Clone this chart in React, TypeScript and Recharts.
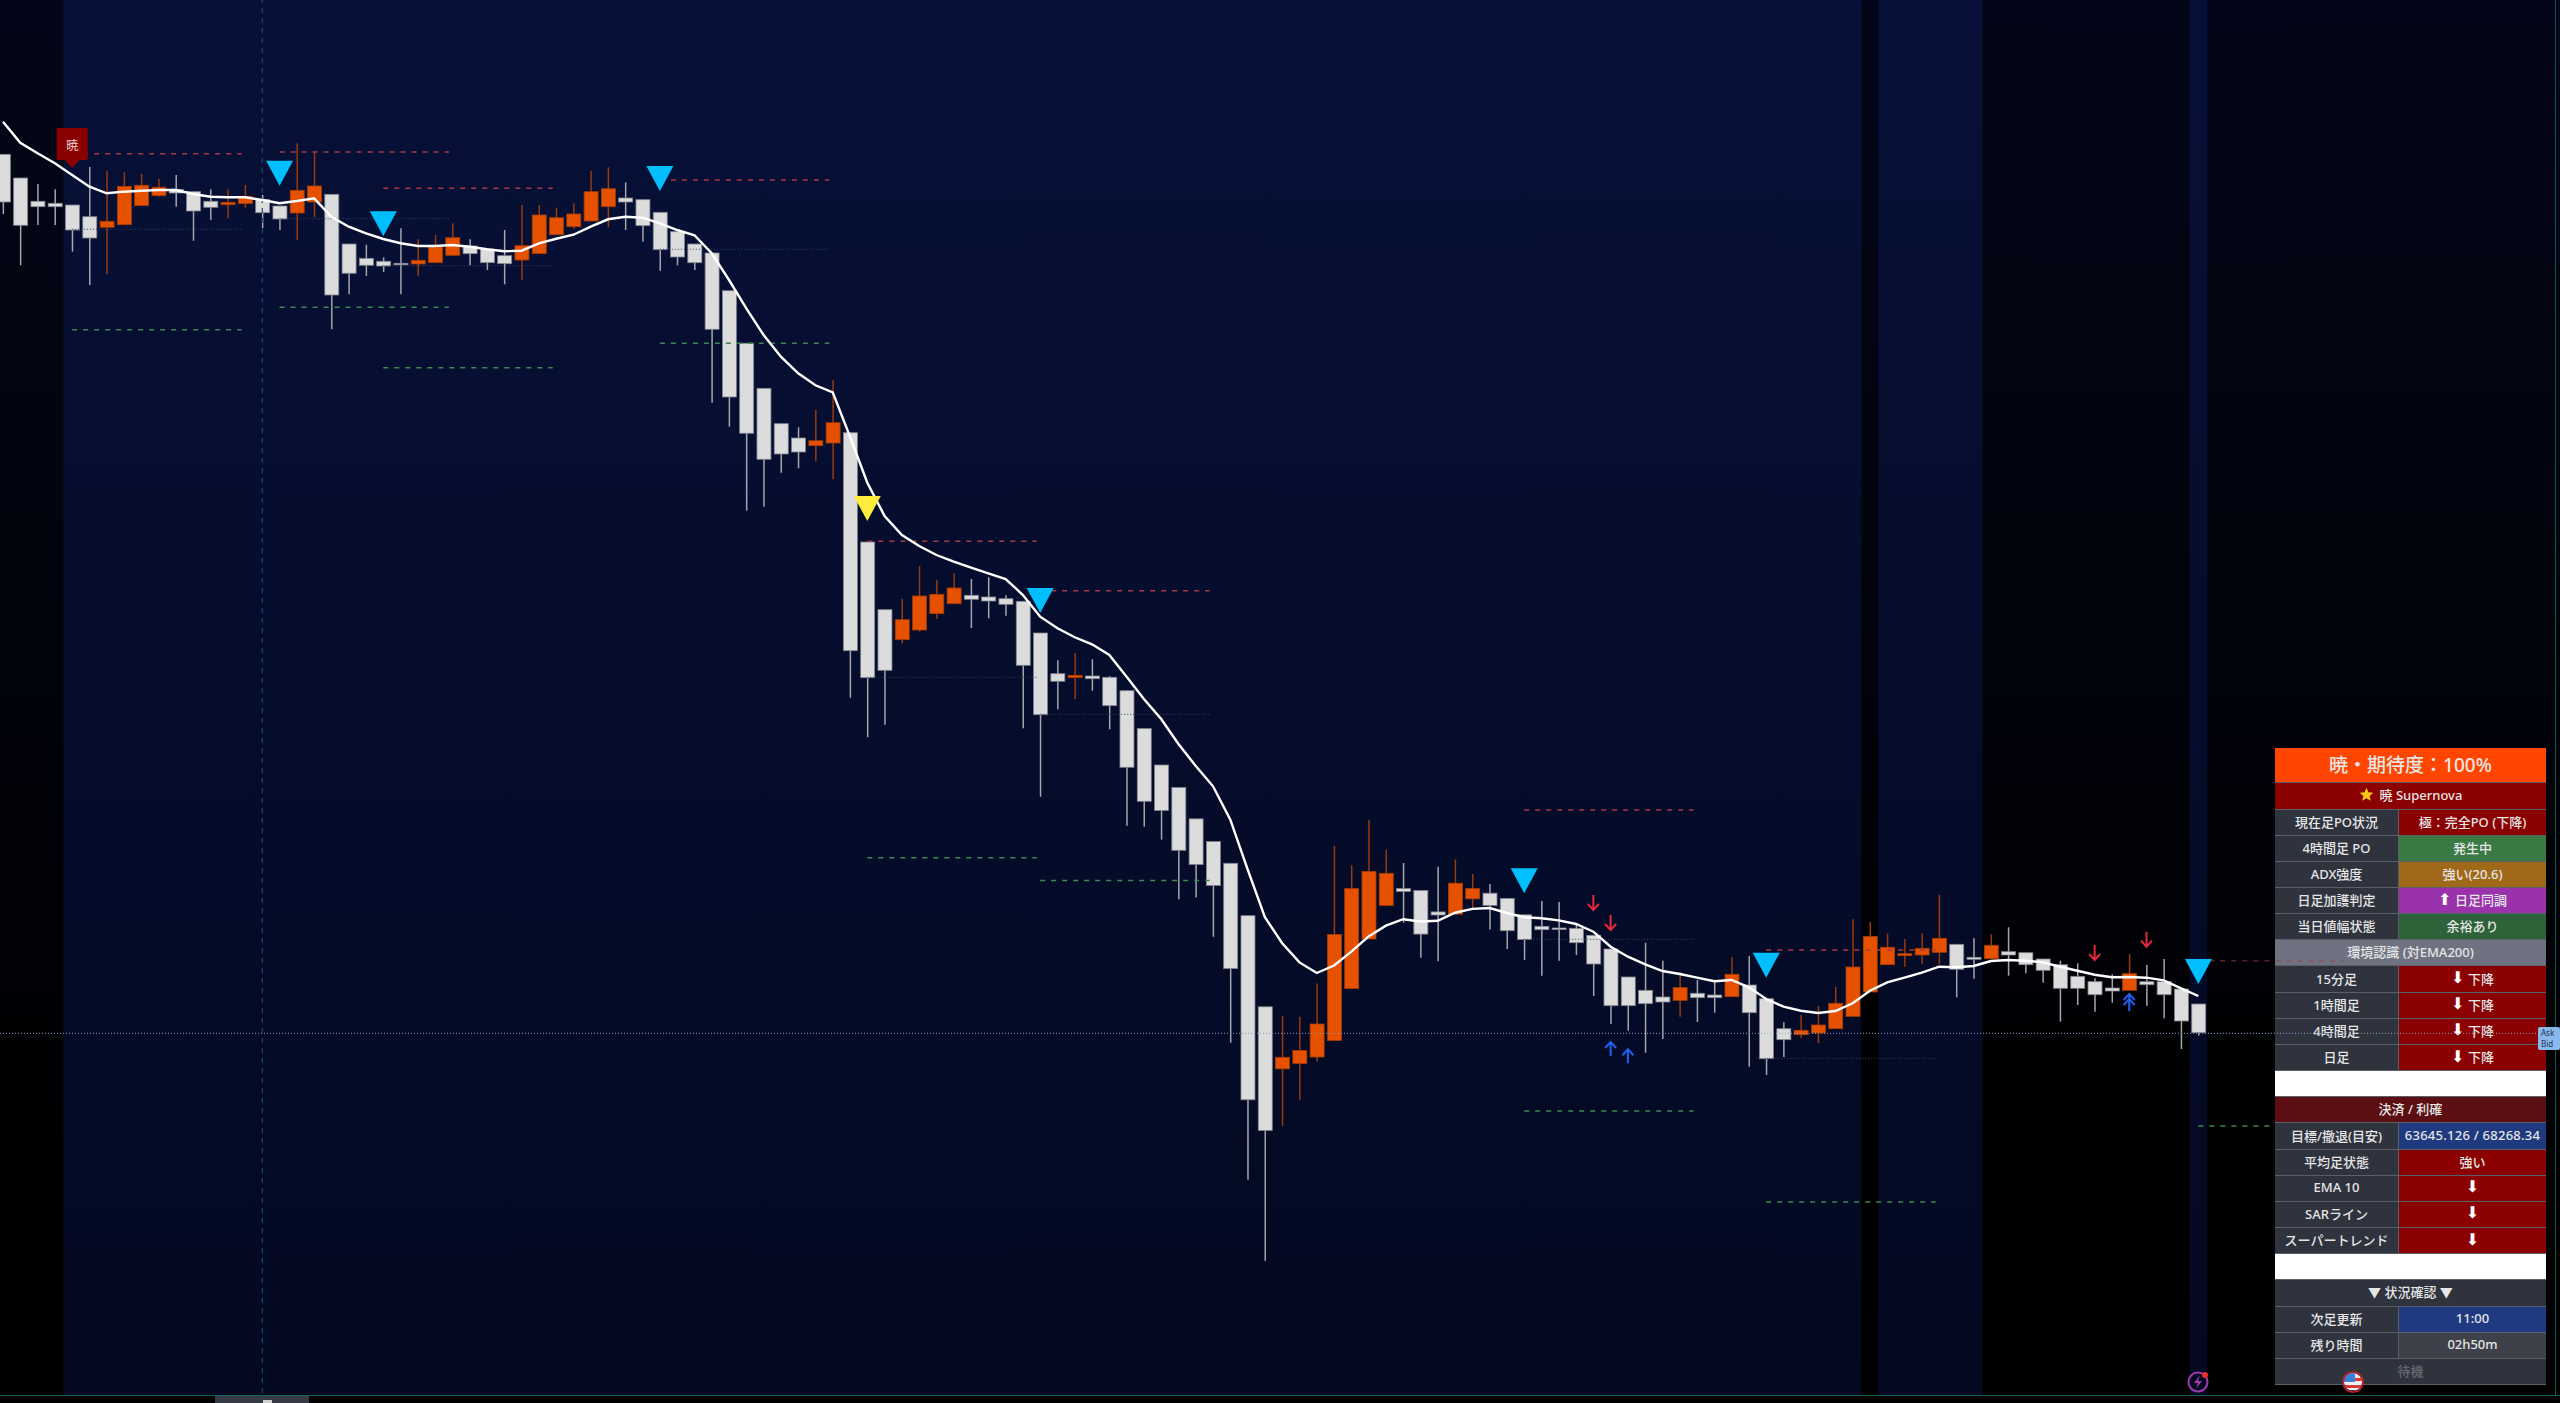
import { Bar, ComposedChart, Line, ReferenceArea, ReferenceLine, Scatter, XAxis, YAxis } from "recharts";

// candles, oldest first
const opens = [
  88142, 87550, 86968, 86918, 86875, 86582, 86318, 86382, 86858, 87108, 87268, 87208, 86968, 86882, 86908, 87008,
  86850, 86675, 86950, 87142, 85900, 85542, 85468, 85418, 85400, 85432, 85618, 85850, 85768, 85608, 85500, 85658,
  86132, 86332, 86475, 86832, 87050, 87008, 86692, 86208, 85900, 85675, 84732, 83418, 82292, 81408, 81050, 80858,
  80925, 81182, 78450, 76758, 76008, 76250, 76658, 76908, 77118, 77075, 77032, 76968, 76175, 75158, 75058, 75100,
  75068, 74732, 73785, 72875, 72312, 71528, 70962, 70418, 69108, 66830, 65280, 65412, 65575, 65988, 67288, 68525,
  69365, 69785, 69738, 69202, 69145, 69528, 69670, 69540, 69130, 68842, 68800, 68792, 68618, 68275, 67575, 67242,
  67075, 66992, 67168, 67125, 67082, 67375, 67032, 66282, 66132, 66175, 66282, 66592, 67200, 67882, 68108, 68125,
  68192, 68392, 68068, 68032, 68208, 68182, 68025, 67882, 67592, 67458, 67300, 67242, 67458, 67458, 67275, 66900,
];
const highs = [
  88150, 87550, 87400, 87268, 86875, 87825, 87732, 87692, 87650, 87525, 87625, 87208, 87268, 87268, 87375, 87125,
  86850, 88418, 88225, 87142, 85900, 85882, 85568, 86292, 86018, 86125, 86418, 86018, 85768, 86250, 86875, 86875,
  86808, 86918, 87732, 87818, 87442, 87008, 86692, 86208, 85900, 85675, 84732, 83418, 82292, 81408, 81318, 81750,
  82500, 81182, 78450, 76758, 77032, 77850, 77500, 77668, 77525, 77568, 77118, 76968, 76175, 75492, 75675, 75518,
  75100, 74732, 73785, 72875, 72312, 71528, 70962, 70418, 69108, 66830, 66600, 66580, 67412, 70850, 70370, 71500,
  70762, 70425, 69738, 70330, 70512, 70150, 69900, 69540, 69130, 69475, 69450, 68875, 68618, 68275, 67575, 68432,
  67982, 67708, 67500, 67458, 68075, 68100, 67032, 66442, 66625, 66850, 67332, 69018, 68950, 68658, 68525, 68668,
  69632, 68392, 68542, 68642, 68818, 68182, 68025, 67982, 67918, 67542, 67642, 68150, 67875, 68025, 67275, 66900,
];
const lows = [
  86650, 85368, 86375, 86375, 85708, 84875, 85150, 86382, 86858, 87082, 86832, 85982, 86500, 86542, 86808, 86292,
  86250, 86000, 86568, 83768, 84642, 85100, 85200, 84642, 85108, 85432, 85618, 85368, 85250, 84892, 85008, 85658,
  86132, 86275, 86475, 86318, 86250, 85958, 85232, 85368, 85250, 81932, 81332, 79232, 79332, 80182, 80292, 80475,
  80018, 74558, 73568, 73882, 75918, 76208, 76525, 76908, 76300, 76542, 76608, 73792, 72082, 74268, 74518, 74732,
  73768, 71355, 71335, 71010, 69518, 69565, 68580, 65930, 62505, 60478, 63855, 64505, 65460, 65988, 67288, 68525,
  69365, 68935, 68055, 67968, 69145, 69278, 68762, 68275, 68000, 67608, 67982, 68125, 67100, 66400, 66232, 65682,
  66025, 66582, 66450, 66682, 67082, 65332, 65125, 65575, 66050, 65918, 66282, 66592, 67200, 67882, 67832, 67900,
  67900, 67068, 67532, 68032, 67608, 67668, 67432, 66458, 66875, 66708, 66932, 67242, 66858, 66542, 65775, 66108,
];
const closes = [
  86950, 86368, 86832, 86832, 86250, 86050, 86468, 87342, 87368, 87318, 87175, 86725, 86818, 86942, 87092, 86682,
  86525, 87242, 87350, 84625, 85168, 85368, 85350, 85382, 85492, 85825, 86058, 85658, 85432, 85408, 85858, 86625,
  86558, 86650, 87208, 87282, 86950, 86358, 85758, 85575, 85432, 83768, 82075, 81168, 80518, 80650, 80700, 80982,
  81432, 75732, 75058, 75242, 76508, 77100, 77142, 77300, 77018, 76975, 76892, 75368, 74132, 74968, 75118, 75032,
  74358, 72818, 71968, 71738, 70742, 70388, 69862, 67785, 64505, 63740, 65568, 65738, 66400, 68638, 69785, 70215,
  70168, 69710, 68648, 69125, 69920, 69785, 69365, 68732, 68510, 68758, 68782, 68432, 67900, 66858, 66858, 66908,
  66950, 67308, 67058, 67058, 67642, 66682, 65532, 66008, 66242, 66375, 66918, 67825, 68592, 68318, 68158, 68292,
  68542, 67768, 68018, 68368, 68125, 67882, 67742, 67292, 67292, 67132, 67225, 67658, 67382, 67132, 66475, 66182,
];
const ema = [
  88958, 88432, 88168, 87918, 87625, 87332, 87168, 87208, 87232, 87250, 87250, 87150, 87082, 87068, 87068, 87000,
  86918, 86975, 87042, 86582, 86332, 86168, 86025, 85918, 85850, 85850, 85875, 85832, 85768, 85718, 85732, 85918,
  86032, 86132, 86332, 86518, 86582, 86558, 86418, 86250, 86118, 85668, 85000, 84292, 83625, 83082, 82668, 82368,
  82192, 81082, 79932, 79100, 78625, 78350, 78125, 77958, 77808, 77668, 77525, 77125, 76582, 76292, 76068, 75892,
  75625, 75082, 74525, 74025, 73400, 72850, 72342, 71508, 70265, 69068, 68418, 67940, 67675, 67862, 68208, 68590,
  68858, 69020, 68962, 68982, 69182, 69278, 69300, 69175, 69068, 69042, 68992, 68900, 68708, 68332, 68082, 67892,
  67725, 67650, 67558, 67468, 67500, 67318, 67025, 66832, 66732, 66675, 66725, 66918, 67232, 67442, 67558, 67682,
  67832, 67818, 67850, 67975, 68000, 67982, 67942, 67832, 67732, 67632, 67568, 67575, 67558, 67492, 67292, 67100,
];

// levels drawn from each signal bar
const signalBars = [4, 16, 22, 38, 50, 60, 88, 102, 127];
const stopLevels = [88158, 88200, 87292, 87500, 78468, 77232, 71750, 68250, 67982];
const midLevels = [86268, 86532, 85358, 85768, 75068, 74142, 68518, 65542, 66169];
const targetLevels = [83758, 84318, 82808, 83418, 70558, 69988, 64225, 61950, 63850];
const stopLength = [9.8, 9.8, 9.8, 9.8, 9.8, 9.8, 9.8, 9.8, 8.4];
const targetLength = [9.8, 9.8, 9.8, 9.8, 9.8, 9.8, 9.8, 9.8, 4.4];
const stopOpacity = [1, 1, 1, 1, 1, 1, 1, 1, 0.55];

const cyanBars = [16, 22, 38, 60, 88, 102, 127];
const cyanPrices = [87982, 86718, 87850, 77300, 70292, 68182, 68025];
const yellowBars = [50];
const yellowPrices = [79600];
const downBars = [92, 93, 121, 124];
const downPrices = [69250, 68750, 68000, 68333];
const upBars = [93, 94];
const upPrices = [65950, 65770];
const doubleUpBars = [123];
const doubleUpPrices = [67150];

const lastPrice = 66167;
const dayLineBar = 15;
const navySessions = [[3.5, 107.5], [108.5, 114.5], [126.5, 127.5]];

type PanelRow = { left: string; right?: string; bg?: string; fg?: string; tall?: boolean; star?: boolean; track?: number };
const panelRows: PanelRow[] = [
  { left: "暁・期待度：100%", bg: "#ff4500", tall: true },
  { left: "暁 Supernova", bg: "#8b0000", star: true },
  { left: "現在足PO状況", right: "極：完全PO (下降)", bg: "#8b0000" },
  { left: "4時間足 PO", right: "発生中", bg: "#3a7b44" },
  { left: "ADX強度", right: "強い(20.6)", bg: "#a0691a" },
  { left: "日足加護判定", right: "⬆ 日足同調", bg: "#9932ab" },
  { left: "当日値幅状態", right: "余裕あり", bg: "#2e6238" },
  { left: "環境認識 (対EMA200)", bg: "#6f7280" },
  { left: "15分足", right: "⬇ 下降", bg: "#8b0000" },
  { left: "1時間足", right: "⬇ 下降", bg: "#8b0000" },
  { left: "4時間足", right: "⬇ 下降", bg: "#8b0000" },
  { left: "日足", right: "⬇ 下降", bg: "#8b0000" },
  { left: "", bg: "#ffffff" },
  { left: "決済 / 利確", bg: "#5c0f12" },
  { left: "目標/撤退(目安)", right: "63645.126 / 68268.34", bg: "#1f3a80", track: 0.25 },
  { left: "平均足状態", right: "強い", bg: "#8b0000" },
  { left: "EMA 10", right: "⬇", bg: "#8b0000" },
  { left: "SARライン", right: "⬇", bg: "#8b0000" },
  { left: "スーパートレンド", right: "⬇", bg: "#8b0000" },
  { left: "", bg: "#ffffff" },
  { left: "▼ 状況確認 ▼", bg: "#2e333e" },
  { left: "次足更新", right: "11:00", bg: "#1f3a80" },
  { left: "残り時間", right: "02h50m", bg: "#3e414a" },
  { left: "待機", bg: "#2e333e", fg: "#666a72" },
];

const candles = opens.map((open, i) => ({
  bar: i,
  open,
  close: closes[i],
  range: [lows[i], highs[i]],
  ema: ema[i],
}));

const toPoints = (bars: number[], prices: number[]) => bars.map((bar, i) => ({ bar, price: prices[i] }));

function Candle(props: any) {
  const { x, y, width, height, payload } = props;
  const low = payload.range[0];
  const high = payload.range[1];
  const pxPerPrice = Math.abs(height) / (high - low || 1);
  const top = Math.min(y, y + height);
  const bodyTop = top + (high - Math.max(payload.open, payload.close)) * pxPerPrice;
  const bodyBottom = top + (high - Math.min(payload.open, payload.close)) * pxPerPrice;
  const up = payload.close > payload.open;
  const mid = x + width / 2;
  return (
    <g>
      <line x1={mid} x2={mid} y1={top} y2={top + Math.abs(height)} stroke={up ? "#983a0c" : "#a4a6ac"} strokeWidth={1.5} />
      <rect
        x={x}
        y={bodyTop}
        width={width}
        height={Math.max(bodyBottom - bodyTop, 1.5)}
        fill={up ? "#e65100" : "#dcdcdc"}
        stroke={up ? "#a53c08" : "#7f838d"}
        strokeWidth={0.8}
      />
    </g>
  );
}

const triangle = (color: string) => (props: any) => {
  const { cx, cy } = props;
  return <polygon points={`${cx - 13.5},${cy} ${cx + 13.5},${cy} ${cx},${cy + 25}`} fill={color} />;
};

// tip at the bottom of the point
function DownArrow(props: any) {
  const { cx, cy } = props;
  return (
    <path
      d={`M${cx} ${cy - 15}V${cy}M${cx - 5.5} ${cy - 6}L${cx} ${cy}L${cx + 5.5} ${cy - 6}`}
      stroke="#e5283c"
      strokeWidth={2}
      fill="none"
    />
  );
}

function UpArrow(props: any) {
  const { cx, cy } = props;
  return (
    <path
      d={`M${cx} ${cy + 14}V${cy}M${cx - 5.5} ${cy + 6}L${cx} ${cy}L${cx + 5.5} ${cy + 6}`}
      stroke="#2060f0"
      strokeWidth={2}
      fill="none"
    />
  );
}

function DoubleUpArrow(props: any) {
  const { cx, cy } = props;
  return (
    <path
      d={`M${cx} ${cy + 17}V${cy}M${cx - 5.5} ${cy + 6}L${cx} ${cy}L${cx + 5.5} ${cy + 6}M${cx - 5.5} ${cy + 11}L${cx} ${cy + 5}L${cx + 5.5} ${cy + 11}`}
      stroke="#2060f0"
      strokeWidth={2}
      fill="none"
    />
  );
}

function SignalTag(props: any) {
  const { cx, cy } = props;
  return (
    <g>
      <path d={`M${cx - 15.5} ${cy - 40}h31v32h-8l-7.5 8l-7.5 -8h-8z`} fill="#8b0000" />
      <text x={cx} y={cy - 18} textAnchor="middle" fontSize={12} fill="#f0d8d8" fontFamily="'Noto Sans CJK JP'">
        暁
      </text>
    </g>
  );
}

function CellText({ text }: { text: string }) {
  if (text[0] === "⬇" || text[0] === "⬆") {
    return (
      <>
        <span style={{ fontSize: 16, fontFamily: "'DejaVu Sans'", color: "#fff", lineHeight: 1 }}>{text[0]}</span>
        {text.slice(1)}
      </>
    );
  }
  return <>{text}</>;
}

function Panel() {
  const cell = {
    display: "flex",
    alignItems: "center",
    justifyContent: "center",
    height: "100%",
    whiteSpace: "pre",
    boxSizing: "border-box",
    paddingBottom: 2,
  } as const;
  return (
    <div
      style={{
        position: "absolute",
        left: 2275,
        top: 748,
        width: 271,
        fontFamily: "'Noto Sans', 'Noto Sans CJK JP', sans-serif",
        fontWeight: 500,
        fontSize: 13,
        color: "#e6e6e6",
        textAlign: "center",
      }}
    >
      {panelRows.map((row, i) => (
        <div
          key={i}
          style={{
            display: "flex",
            boxSizing: "border-box",
            height: row.tall ? 35.4 : 26.16,
            borderBottom: "1px solid #5a5f69",
            background: row.right ? "#2e333e" : row.bg,
            color: row.fg || "#e6e6e6",
            fontSize: row.tall ? 19 : 13,
          }}
        >
          <div style={{ ...cell, width: row.right ? 123 : 271 }}>
            {row.star ? (
              <svg width={15} height={15} viewBox="0 0 20 20" style={{ marginRight: 6 }}>
                <polygon points="10,1 12.6,7 19,7.6 14.2,11.9 15.7,18.4 10,15 4.3,18.4 5.8,11.9 1,7.6 7.4,7" fill="#f5c518" />
              </svg>
            ) : null}
            {row.left}
          </div>
          {row.right ? (
            <div style={{ ...cell, width: 148, background: row.bg, borderLeft: "1px solid #5a5f69", letterSpacing: row.track }}>
              <CellText text={row.right} />
            </div>
          ) : null}
        </div>
      ))}
    </div>
  );
}

function ScreenChrome() {
  return (
    <>
      <div style={{ position: "absolute", left: 2555, top: 0, width: 1, height: 1395, background: "#0f5550" }} />
      <div
        style={{
          position: "absolute",
          left: 0,
          top: 1395,
          width: 2560,
          height: 8,
          boxSizing: "border-box",
          background: "#000",
          borderTop: "1px solid #14655c",
        }}
      />
      <div style={{ position: "absolute", left: 215, top: 1396, width: 94, height: 7, background: "#363a45" }}>
        <div style={{ position: "absolute", left: 48, top: 4, width: 9, height: 3, background: "#d0d0d0" }} />
      </div>
      <div
        style={{
          position: "absolute",
          left: 2538,
          top: 1027,
          width: 22,
          height: 23,
          background: "#8ab8ec",
          borderRadius: 2,
          color: "#22344f",
          fontFamily: "'Noto Sans'",
          fontSize: 8,
          lineHeight: "11px",
          paddingLeft: 3,
          boxSizing: "border-box",
        }}
      >
        <div>Ask</div>
        <div>Bid</div>
      </div>
      <svg width={2560} height={1403} style={{ position: "absolute", left: 0, top: 0, pointerEvents: "none" }}>
        <circle cx={2198} cy={1382} r={9.5} fill="none" stroke="#a03ab0" strokeWidth={2} />
        <path d="M2200 1375l-6 8h4l-2 6l6 -8h-4z" fill="#a03ab0" />
        <circle cx={2205} cy={1375} r={3} fill="#e8302c" />
        <clipPath id="flagClip">
          <circle cx={2353} cy={1382} r={9} />
        </clipPath>
        <g clipPath="url(#flagClip)">
          <rect x={2343} y={1372} width={20} height={20} fill="#f0f0f0" />
          <rect x={2343} y={1378} width={20} height={3} fill="#d83a3a" />
          <rect x={2343} y={1385} width={20} height={3} fill="#d83a3a" />
          <rect x={2343} y={1390} width={20} height={3} fill="#20242c" />
          <rect x={2343} y={1372} width={12} height={10} fill="#3a7fd8" />
        </g>
        <circle cx={2353} cy={1382} r={10} fill="none" stroke="#c0202a" strokeWidth={1.6} />
      </svg>
    </>
  );
}

export default function App() {
  return (
    <div
      style={{
        position: "fixed",
        left: 0,
        top: 0,
        width: 2560,
        height: 1403,
        overflow: "hidden",
        background: "linear-gradient(#030618 0%, #000 85%)",
      }}
    >
      <Panel />
      <div style={{ position: "absolute", left: 0, top: 0 }}>
        <ComposedChart width={2560} height={1403} data={candles} margin={{ top: 0, right: 0, bottom: 0, left: 0 }}>
          <defs>
            <linearGradient id="sessionFill" x1="0" y1="0" x2="0" y2="1">
              <stop offset="0%" stopColor="#071038" />
              <stop offset="100%" stopColor="#030920" />
            </linearGradient>
          </defs>
          <XAxis dataKey="bar" type="number" domain={[-0.1735, 147.92]} hide allowDataOverflow />
          <YAxis type="number" domain={[56925, 92000]} hide allowDataOverflow />
          {navySessions.map(([x1, x2]) => (
            <ReferenceArea key={x1} x1={x1} x2={x2} fill="url(#sessionFill)" fillOpacity={1} strokeWidth={0} />
          ))}
          <ReferenceLine x={dayLineBar} stroke="#0f4c74" strokeDasharray="5 5" strokeWidth={1.2} />
          {signalBars.map((bar, i) => (
            <ReferenceLine
              key={`stop${bar}`}
              segment={[{ x: bar, y: stopLevels[i] }, { x: bar + stopLength[i], y: stopLevels[i] }]}
              stroke="#a83a44"
              strokeOpacity={stopOpacity[i]}
              strokeDasharray="5 6"
              strokeWidth={1.5}
            />
          ))}
          {signalBars.map((bar, i) => (
            <ReferenceLine
              key={`mid${bar}`}
              segment={[{ x: bar, y: midLevels[i] }, { x: bar + stopLength[i], y: midLevels[i] }]}
              stroke="#3a4562"
              strokeOpacity={stopOpacity[i]}
              strokeDasharray="1 2"
              strokeWidth={1}
            />
          ))}
          {signalBars.map((bar, i) => (
            <ReferenceLine
              key={`target${bar}`}
              segment={[{ x: bar, y: targetLevels[i] }, { x: bar + targetLength[i], y: targetLevels[i] }]}
              stroke="#3c8a52"
              strokeDasharray="5 6"
              strokeWidth={1.5}
            />
          ))}
          <ReferenceLine y={lastPrice} stroke="#8a9dc2" strokeDasharray="1 2" strokeWidth={1} />
          <Bar dataKey="range" barSize={14} shape={Candle} isAnimationActive={false} />
          <Line dataKey="ema" type="linear" stroke="#ffffff" strokeWidth={2.4} dot={false} activeDot={false} isAnimationActive={false} />
          <Scatter data={toPoints(cyanBars, cyanPrices)} dataKey="price" shape={triangle("#00bfff")} isAnimationActive={false} />
          <Scatter data={toPoints(yellowBars, yellowPrices)} dataKey="price" shape={triangle("#ffeb3b")} isAnimationActive={false} />
          <Scatter data={toPoints(downBars, downPrices)} dataKey="price" shape={DownArrow} isAnimationActive={false} />
          <Scatter data={toPoints(upBars, upPrices)} dataKey="price" shape={UpArrow} isAnimationActive={false} />
          <Scatter data={toPoints(doubleUpBars, doubleUpPrices)} dataKey="price" shape={DoubleUpArrow} isAnimationActive={false} />
          <Scatter data={toPoints([4], [87800])} dataKey="price" shape={SignalTag} isAnimationActive={false} />
        </ComposedChart>
      </div>
      <ScreenChrome />
    </div>
  );
}
